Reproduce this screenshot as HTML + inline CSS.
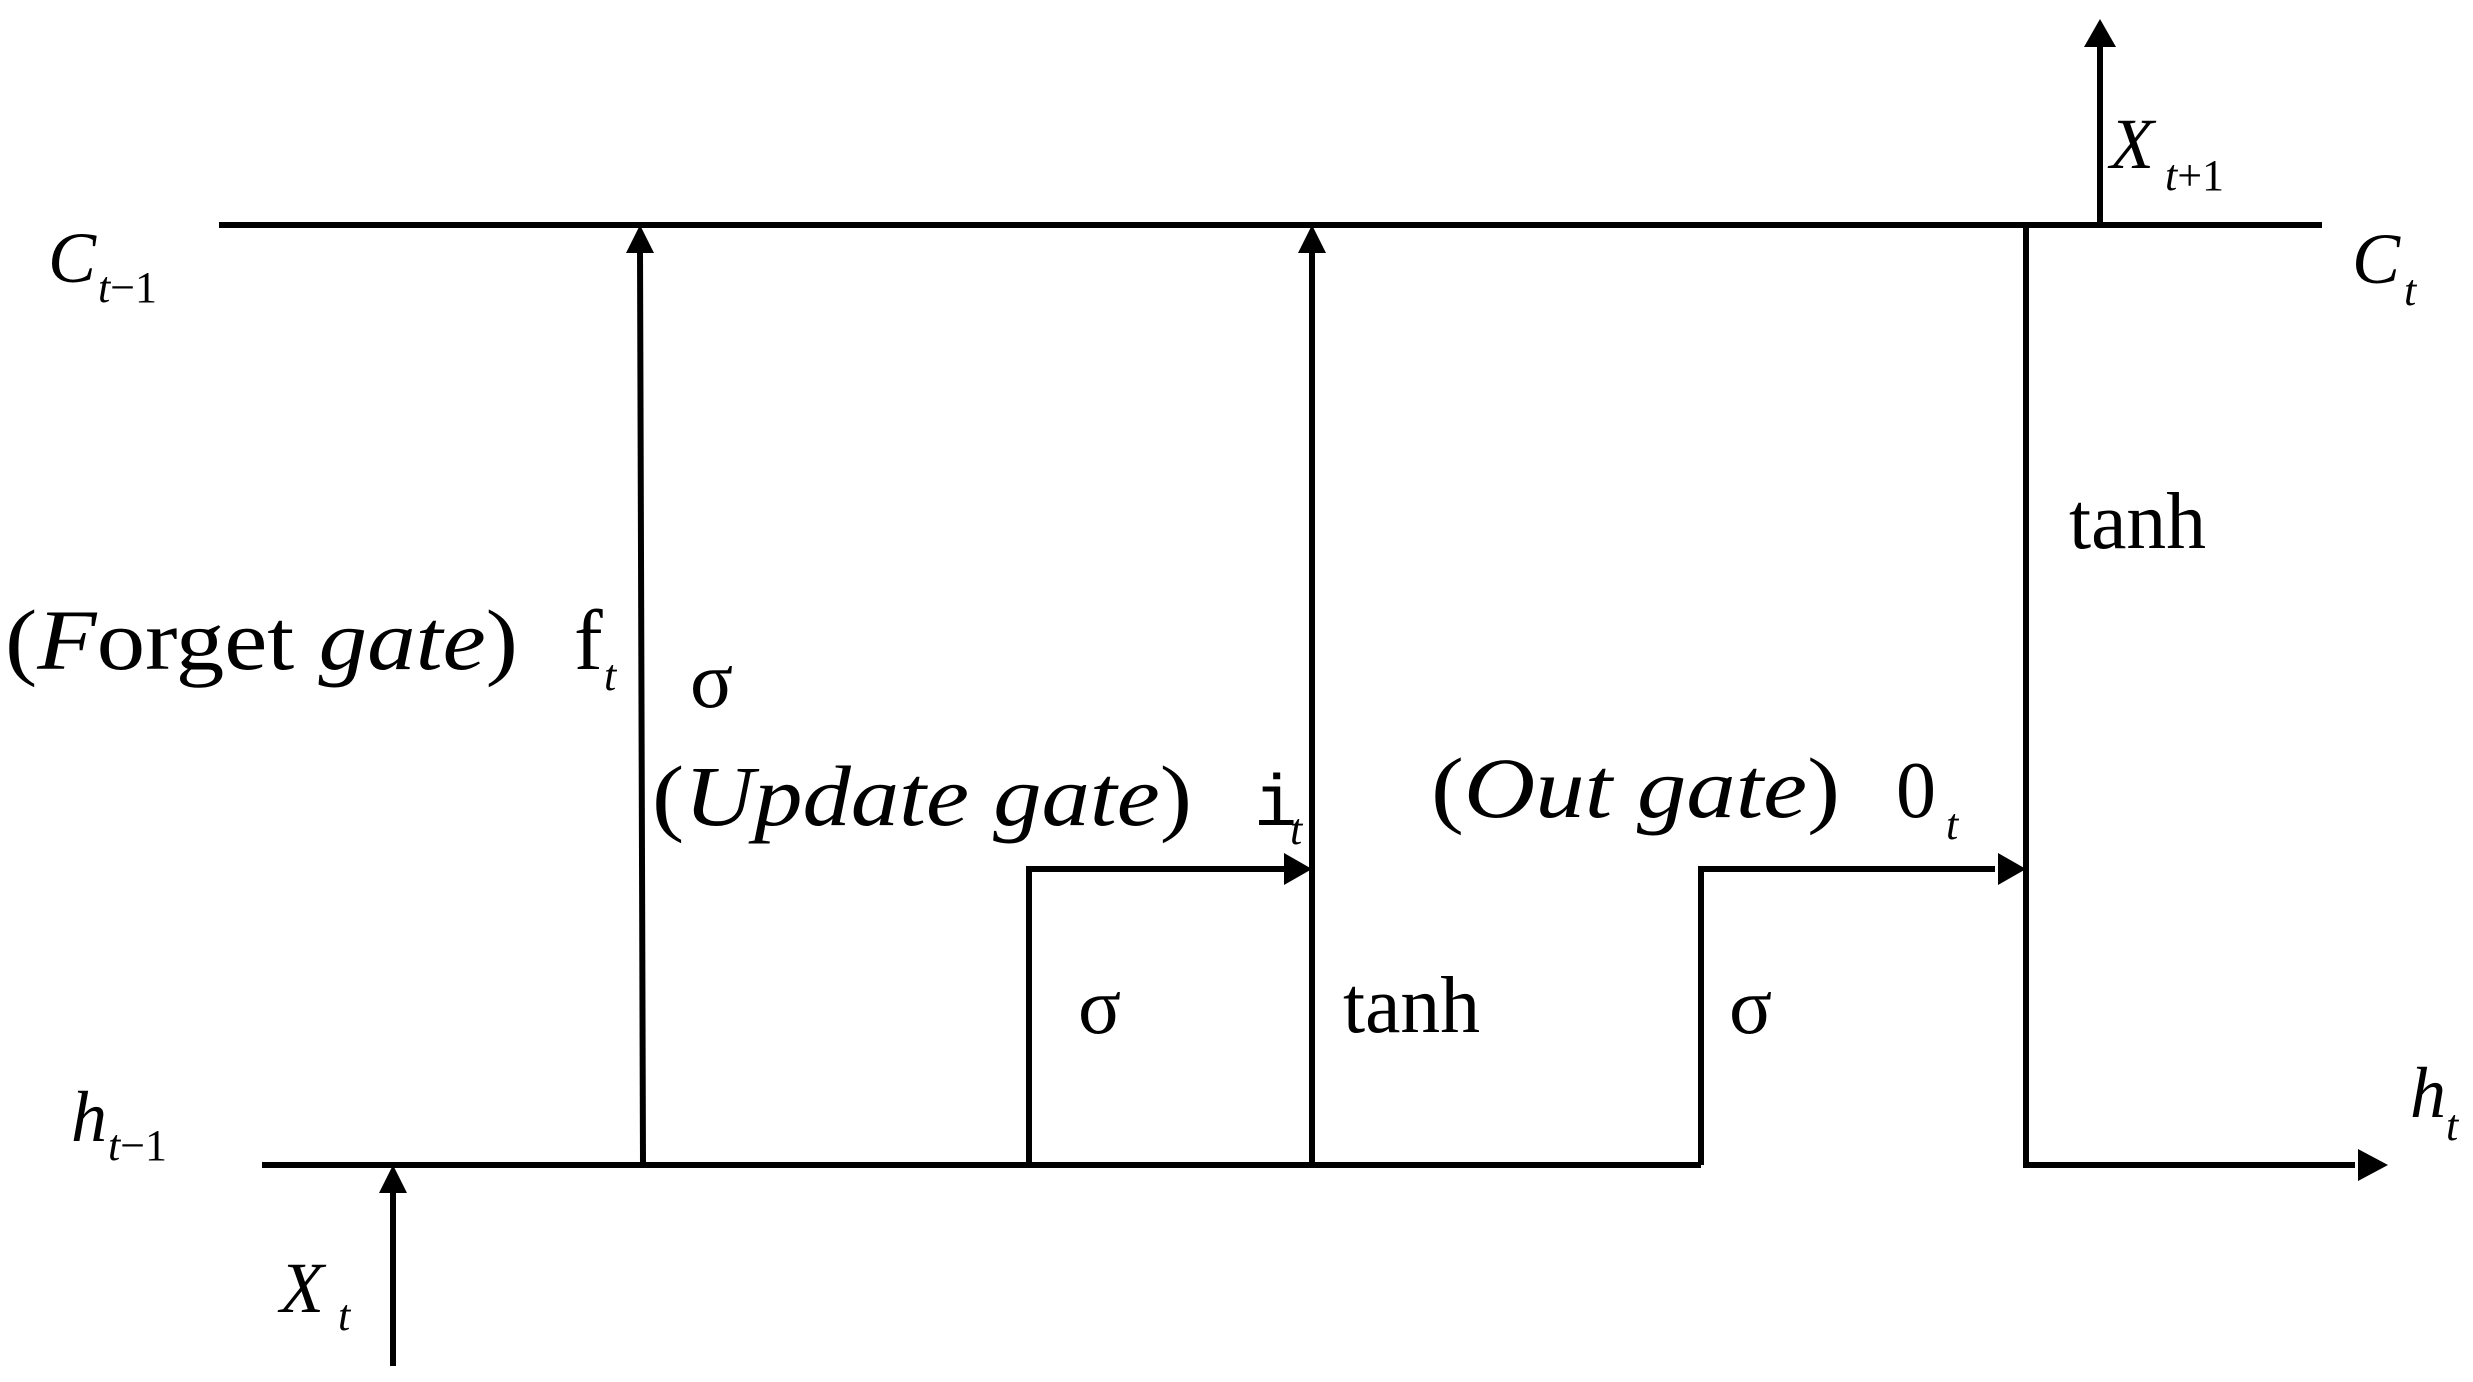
<!DOCTYPE html>
<html><head><meta charset="utf-8"><style>html,body{margin:0;padding:0;background:#fff}svg{display:block}</style></head>
<body>
<svg width="2473" height="1382" viewBox="0 0 2473 1382" xmlns="http://www.w3.org/2000/svg" font-family="'Liberation Serif', serif" fill="#000">
<g stroke="#000" stroke-width="6" fill="none">
<line x1="219" y1="225" x2="2322" y2="225"/>
<line x1="262" y1="1165" x2="1701" y2="1165"/>
<polyline points="1701,1165 1701,869 1995,869"/>
<polyline points="1029,1165 1029,869 1285,869"/>
<polyline points="2100,225 2026,225 2026,1165 2355,1165"/>
<line x1="643" y1="1165" x2="640" y2="250"/>
<line x1="1312" y1="1165" x2="1312" y2="250"/>
<line x1="2100" y1="225" x2="2100" y2="45"/>
<line x1="393" y1="1366" x2="393" y2="1190"/>
</g>
<g>
<polygon points="640,225 626,253 654,253"/>
<polygon points="1312,225 1298,253 1326,253"/>
<polygon points="2100,19 2084,47 2116,47"/>
<polygon points="393,1165 379,1193 407,1193"/>
<polygon points="1312,869 1284,853 1284,885"/>
<polygon points="2026,869 1998,853 1998,885"/>
<polygon points="2388,1165 2358,1149 2358,1181"/>
</g>
<g font-size="72">
<text x="48" y="282" font-style="italic">C</text>
<text x="98" y="302" font-size="44"><tspan font-style="italic">t</tspan>−1</text>
<text x="71" y="1141" font-style="italic">h</text>
<text x="108" y="1160" font-size="44"><tspan font-style="italic">t</tspan>−1</text>
<text x="280" y="1312" font-style="italic">X</text>
<text x="338" y="1330" font-size="44" font-style="italic">t</text>
<text x="2110" y="168" font-style="italic">X</text>
<text x="2165" y="190" font-size="44"><tspan font-style="italic">t</tspan>+1</text>
<text x="2352" y="283" font-style="italic">C</text>
<text x="2404" y="305" font-size="44" font-style="italic">t</text>
<text x="2410" y="1117" font-style="italic">h</text>
<text x="2446" y="1140" font-size="44" font-style="italic">t</text>
</g>
<g font-size="86">
<text x="5" y="669" textLength="513" lengthAdjust="spacingAndGlyphs">(<tspan font-style="italic">F</tspan>orget <tspan font-style="italic">gate</tspan>)</text>
<text x="574" y="669">f</text>
<text x="604" y="690" font-size="44" font-style="italic">t</text>
<text x="690" y="707" font-size="80">σ</text>
<text x="652" y="825" textLength="540" lengthAdjust="spacingAndGlyphs">(<tspan font-style="italic">Update gate</tspan>)</text>
<text x="1254" y="825" font-family="'Liberation Mono', monospace" font-size="72">i</text>
<text x="1290" y="844" font-size="44" font-style="italic">t</text>
<text x="1431" y="817" textLength="409" lengthAdjust="spacingAndGlyphs">(<tspan font-style="italic">Out gate</tspan>)</text>
<text x="1896" y="817" font-size="80">0</text>
<text x="1946" y="839" font-size="44" font-style="italic">t</text>
<text x="1078" y="1033" font-size="80">σ</text>
<text x="1729" y="1033" font-size="80">σ</text>
<text x="1343" y="1032" font-size="80" textLength="137" lengthAdjust="spacingAndGlyphs">tanh</text>
<text x="2069" y="548" font-size="80" textLength="137" lengthAdjust="spacingAndGlyphs">tanh</text>
</g>
</svg>
</body></html>
